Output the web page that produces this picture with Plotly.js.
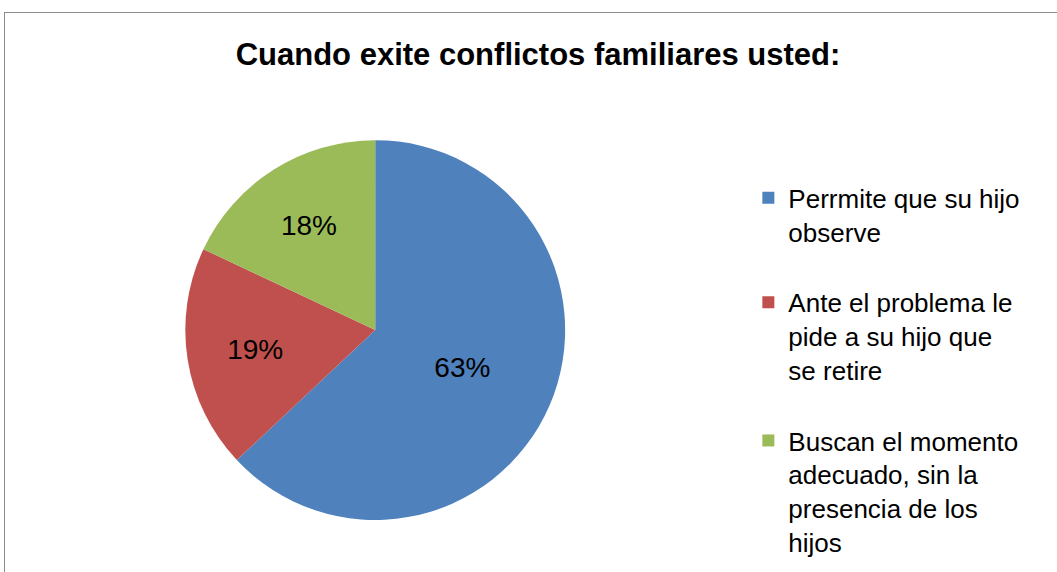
<!DOCTYPE html>
<html>
<head>
<meta charset="utf-8">
<script src="https://cdn.plot.ly/plotly-3.0.1.min.js"></script>
<style>
  html, body { margin: 0; padding: 0; background: #ffffff; overflow: hidden; }
  #frame { position: absolute; left: 4px; top: 12px; width: 1200px; height: 700px; border: 1px solid #8c8c8c; box-sizing: border-box; }
  #chart { position: absolute; left: 0; top: 0; width: 1057px; height: 572px; }
</style>
</head>
<body>
<div id="frame"></div>
<div id="chart"></div>
<script>
const chartTitle = "Cuando exite conflictos familiares usted:";
const categories = [
  "Perrmite que su hijo<br>observe<br> ",
  "Ante el problema le<br>pide a su hijo que<br>se retire<br> ",
  "Buscan el momento<br>adecuado, sin la<br>presencia de los<br>hijos"
];
const values = [63, 19, 18];
const colors = ["#4F81BD", "#C0504D", "#9BBB59"];

const trace = {
  type: "pie",
  labels: categories,
  values: values,
  sort: false,
  direction: "clockwise",
  rotation: 0,
  marker: { colors: colors, line: { color: "#ffffff", width: 0 } },
  textinfo: "percent",
  texttemplate: "%{percent:.0%}",
  textposition: "inside",
  insidetextorientation: "horizontal",
  textfont: { family: "Liberation Sans, Arial, sans-serif", size: 28, color: "#000000" },
  hoverinfo: "label+percent",
  domain: { x: [0.175, 0.535], y: [0.091, 0.755] }
};

const layout = {
  width: 1057,
  height: 572,
  margin: { l: 0, r: 0, t: 0, b: 0 },
  paper_bgcolor: "rgba(0,0,0,0)",
  plot_bgcolor: "rgba(0,0,0,0)",
  font: { family: "Liberation Sans, Arial, sans-serif", color: "#000000" },
  title: {
    text: "<b>" + chartTitle + "</b>",
    font: { family: "Liberation Sans, Arial, sans-serif", size: 31, color: "#000000" },
    x: 0.509, xanchor: "center",
    y: 0.905, yanchor: "middle"
  },
  showlegend: true,
  legend: {
    x: 0.708, xanchor: "left",
    y: 0.695, yanchor: "top",
    valign: "top",
    font: { family: "Liberation Sans, Arial, sans-serif", size: 26, color: "#000000" },
    bgcolor: "rgba(0,0,0,0)",
    itemwidth: 30,
    traceorder: "normal"
  }
};

Plotly.newPlot("chart", [trace], layout, { displayModeBar: false, staticPlot: true });
</script>
</body>
</html>
